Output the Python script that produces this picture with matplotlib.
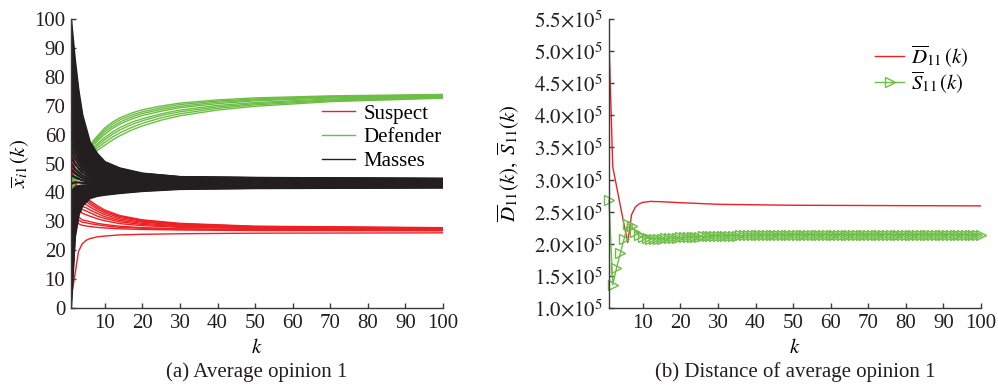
import numpy as np
import matplotlib
matplotlib.use('Agg')
import matplotlib.pyplot as plt
from matplotlib.ticker import FuncFormatter, MultipleLocator
from matplotlib.legend_handler import HandlerLine2D

plt.rcParams['font.family'] = ['Liberation Serif', 'DejaVu Serif']
plt.rcParams['mathtext.fontset'] = 'stix'

RED = '#ed2024'
GREEN = '#6dbe45'
BLACK = '#231f20'
AXIS = '#3a3a3a'
FS = 15

# ---- (a) average opinion 1 ----
k_mass = [1, 2, 3, 4, 6, 8, 10, 14, 20, 30, 50, 100]
masses = [
    [100, 86.2, 75.1, 66.8, 57.4, 53.3, 50.5, 48.3, 46.5, 45.3, 45.0, 44.7],
    [97.5, 84.3, 73.7, 65.8, 56.8, 52.9, 50.2, 48.1, 46.4, 45.25, 44.95, 44.65],
    [95, 82.4, 72.3, 64.8, 56.2, 52.5, 49.9, 47.9, 46.3, 45.2, 44.9, 44.6],
    [92.5, 80.5, 70.9, 63.7, 55.55, 52.0, 49.55, 47.65, 46.1, 45.05, 44.75, 44.5],
    [90, 78.6, 69.5, 62.6, 54.9, 51.5, 49.2, 47.4, 45.9, 44.9, 44.6, 44.4],
    [87.5, 76.7, 68.1, 61.6, 54.3, 51.05, 48.9, 47.15, 45.75, 44.85, 44.55, 44.35],
    [85, 74.8, 66.7, 60.6, 53.7, 50.6, 48.6, 46.9, 45.6, 44.8, 44.5, 44.3],
    [82.5, 72.9, 65.25, 59.55, 53.05, 50.15, 48.25, 46.65, 45.45, 44.65, 44.4, 44.2],
    [80, 71.0, 63.8, 58.5, 52.4, 49.7, 47.9, 46.4, 45.3, 44.5, 44.3, 44.1],
    [77.5, 69.15, 62.45, 57.45, 51.75, 49.25, 47.6, 46.2, 45.15, 44.4, 44.25, 44.05],
    [75, 67.3, 61.1, 56.4, 51.1, 48.8, 47.3, 46.0, 45.0, 44.3, 44.2, 44.0],
    [72.5, 65.4, 59.65, 55.35, 50.45, 48.35, 46.95, 45.75, 44.85, 44.2, 44.05, 43.9],
    [70, 63.5, 58.2, 54.3, 49.8, 47.9, 46.6, 45.5, 44.7, 44.1, 43.9, 43.8],
    [67.5, 61.6, 56.8, 53.25, 49.2, 47.45, 46.25, 45.3, 44.55, 44.0, 43.85, 43.75],
    [65, 59.7, 55.4, 52.2, 48.6, 47.0, 45.9, 45.1, 44.4, 43.9, 43.8, 43.7],
    [62.5, 57.8, 54.0, 51.15, 47.95, 46.55, 45.55, 44.85, 44.2, 43.8, 43.7, 43.6],
    [60, 55.9, 52.6, 50.1, 47.3, 46.1, 45.2, 44.6, 44.0, 43.7, 43.6, 43.5],
    [57.5, 54.0, 51.2, 49.05, 46.7, 45.65, 44.9, 44.4, 43.9, 43.6, 43.55, 43.45],
    [55, 52.1, 49.8, 48.0, 46.1, 45.2, 44.6, 44.2, 43.8, 43.5, 43.5, 43.4],
    [52.5, 50.2, 48.35, 46.95, 45.45, 44.75, 44.25, 43.9, 43.6, 43.4, 43.35, 43.3],
    [50, 48.3, 46.9, 45.9, 44.8, 44.3, 43.9, 43.6, 43.4, 43.3, 43.2, 43.2],
    [48, 46.8, 45.8, 45.05, 44.25, 43.9, 43.6, 43.4, 43.25, 43.15, 43.1, 43.1],
    [46, 45.3, 44.7, 44.2, 43.7, 43.5, 43.3, 43.2, 43.1, 43.0, 43.0, 43.0],
    [43, 43.45, 43.45, 43.3, 43.1, 43.05, 42.95, 42.95, 42.9, 42.9, 42.9, 42.9],
    [40, 41.6, 42.2, 42.4, 42.5, 42.6, 42.6, 42.7, 42.7, 42.8, 42.8, 42.8],
    [38, 40.75, 41.7, 42.05, 42.3, 42.4, 42.45, 42.55, 42.6, 42.7, 42.75, 42.75],
    [36, 39.9, 41.2, 41.7, 42.1, 42.2, 42.3, 42.4, 42.5, 42.6, 42.7, 42.7],
    [34, 39.0, 40.7, 41.35, 41.9, 42.05, 42.15, 42.25, 42.4, 42.55, 42.65, 42.65],
    [32, 38.1, 40.2, 41.0, 41.7, 41.9, 42.0, 42.1, 42.3, 42.5, 42.6, 42.6],
    [30, 37.25, 39.7, 40.65, 41.45, 41.7, 41.8, 42.0, 42.2, 42.4, 42.5, 42.55],
    [28, 36.4, 39.2, 40.3, 41.2, 41.5, 41.6, 41.9, 42.1, 42.3, 42.4, 42.5],
    [26, 35.55, 38.7, 39.95, 40.95, 41.3, 41.45, 41.75, 42.0, 42.25, 42.35, 42.45],
    [24, 34.7, 38.2, 39.6, 40.7, 41.1, 41.3, 41.6, 41.9, 42.2, 42.3, 42.4],
    [22, 33.8, 37.7, 39.3, 40.5, 40.9, 41.15, 41.45, 41.75, 42.1, 42.25, 42.35],
    [20, 32.9, 37.2, 39.0, 40.3, 40.7, 41.0, 41.3, 41.6, 42.0, 42.2, 42.3],
    [17.5, 31.85, 36.55, 38.55, 40.05, 40.5, 40.8, 41.15, 41.5, 41.95, 42.15, 42.25],
    [15, 30.8, 35.9, 38.1, 39.8, 40.3, 40.6, 41.0, 41.4, 41.9, 42.1, 42.2],
    [12.5, 29.7, 35.25, 37.65, 39.45, 40.05, 40.35, 40.8, 41.2, 41.75, 41.95, 42.1],
    [10, 28.6, 34.6, 37.2, 39.1, 39.8, 40.1, 40.6, 41.0, 41.6, 41.8, 42.0],
    [7.5, 27.5, 34.0, 36.8, 38.85, 39.55, 39.9, 40.4, 40.9, 41.55, 41.75, 41.95],
    [5, 26.4, 33.4, 36.4, 38.6, 39.3, 39.7, 40.2, 40.8, 41.5, 41.7, 41.9],
    [2.5, 25.3, 32.75, 35.9, 38.3, 39.05, 39.45, 40.0, 40.65, 41.35, 41.6, 41.8],
    [0, 24.2, 32.1, 35.4, 38.0, 38.8, 39.2, 39.8, 40.5, 41.2, 41.5, 41.7],
]

k_sus = [1, 2, 3, 4, 5, 6, 8, 10, 14, 20, 30, 50, 100]
suspects = [
    [58, 45, 40.5, 38.8, 38.3, 37.2, 35.4, 33.9, 32.0, 30.5, 29.3, 28.3, 27.8],
    [55, 44, 39.8, 38.1, 37.6, 36.6, 34.8, 33.4, 31.7, 30.3, 29.1, 28.2, 27.7],
    [53, 43, 39.0, 37.3, 36.8, 35.9, 34.2, 32.9, 31.3, 30.0, 28.9, 28.1, 27.6],
    [50, 42, 38.0, 36.3, 35.8, 35.0, 33.5, 32.3, 30.8, 29.7, 28.7, 27.9, 27.5],
    [62, 46, 37.0, 35.2, 34.7, 34.0, 32.7, 31.6, 30.3, 29.3, 28.4, 27.8, 27.4],
    [66, 47, 36.0, 34.1, 33.6, 33.0, 31.8, 31.0, 29.8, 28.9, 28.2, 27.6, 27.3],
    [70, 48, 34.8, 32.8, 32.3, 31.8, 30.9, 30.2, 29.2, 28.5, 27.9, 27.5, 27.2],
    [48, 38, 31.5, 30.5, 30.2, 29.9, 29.3, 28.9, 28.3, 27.8, 27.4, 27.2, 27.0],
    [45, 36, 30.5, 29.7, 29.5, 29.2, 28.8, 28.4, 27.9, 27.6, 27.3, 27.0, 26.9],
    [42, 34, 29.2, 28.6, 28.4, 28.2, 27.9, 27.7, 27.4, 27.2, 27.0, 26.8, 26.7],
    [3, 11, 19.5, 22.2, 23.4, 24.0, 24.6, 24.9, 25.3, 25.5, 25.7, 25.9, 26.0],
]

k_def = [1, 2, 3, 4, 5, 6, 7, 8, 10, 12, 14, 17, 20, 25, 30, 40, 50, 70, 100]
defenders = [
    [45.0, 46.0, 47.5, 49.5, 53.0, 56.0, 58.0, 59.5, 62.3, 64.3, 65.8, 67.4, 68.6, 69.9, 70.9, 72.0, 72.7, 73.4, 73.9],
    [44.4, 45.6, 47.2, 49.2, 52.6, 55.5, 57.4, 58.9, 61.6, 63.6, 65.1, 66.7, 67.9, 69.3, 70.4, 71.6, 72.35, 73.15, 73.75],
    [43.8, 45.3, 46.9, 48.9, 52.2, 55.0, 56.9, 58.3, 60.9, 62.8, 64.3, 66.0, 67.3, 68.7, 69.8, 71.2, 72.0, 72.9, 73.6],
    [43.2, 44.9, 46.6, 48.6, 51.7, 54.6, 56.3, 57.7, 60.1, 62.1, 63.6, 65.3, 66.6, 68.1, 69.3, 70.7, 71.7, 72.7, 73.4],
    [42.3, 44.4, 46.1, 48.1, 51.1, 53.8, 55.5, 56.8, 59.0, 60.9, 62.4, 64.2, 65.5, 67.2, 68.5, 70.1, 71.1, 72.3, 73.2],
    [41.6, 44.0, 45.8, 47.8, 50.6, 53.3, 54.9, 56.1, 58.2, 60.1, 61.6, 63.4, 64.8, 66.6, 67.9, 69.6, 70.7, 72.0, 73.0],
    [40.8, 43.5, 45.4, 47.4, 50.1, 52.6, 54.1, 55.3, 57.3, 59.1, 60.6, 62.4, 63.9, 65.8, 67.2, 69.1, 70.3, 71.7, 72.8],
    [40.0, 43.0, 45.0, 47.0, 49.5, 52.0, 53.4, 54.5, 56.3, 58.1, 59.6, 61.5, 63.0, 65.0, 66.5, 68.5, 69.8, 71.4, 72.6],
]

# ---- (b) distance of average opinion 1 (units of 1e5) ----
k_dist = [1, 2, 3, 4, 5, 6, 7, 8, 9, 10, 12, 15, 20, 30, 50, 100]
d11 = [5.18, 3.20, 2.90, 2.60, 2.30, 2.02, 2.45, 2.57, 2.62, 2.645, 2.66,
       2.655, 2.64, 2.615, 2.60, 2.59]
s11 = [2.68, 1.36, 1.62, 1.85, 2.07, 2.31, 2.28, 2.19, 2.13, 2.10,
       2.085, 2.080, 2.078, 2.078, 2.080, 2.083, 2.087, 2.090, 2.094, 2.098,
       2.101, 2.104, 2.107, 2.110, 2.112, 2.115, 2.117, 2.119, 2.121, 2.123,
       2.125, 2.126, 2.127, 2.128, 2.129, 2.130, 2.131, 2.132, 2.133, 2.134,
       2.135, 2.135, 2.136, 2.136, 2.137, 2.137, 2.138, 2.138, 2.139, 2.139,
       2.140, 2.140, 2.140, 2.140, 2.140, 2.140, 2.140, 2.140, 2.140, 2.140,
       2.140, 2.140, 2.140, 2.140, 2.140, 2.140, 2.140, 2.140, 2.140, 2.140,
       2.140, 2.140, 2.140, 2.140, 2.140, 2.140, 2.140, 2.140, 2.140, 2.140,
       2.140, 2.140, 2.140, 2.140, 2.140, 2.140, 2.140, 2.140, 2.140, 2.140,
       2.140, 2.140, 2.140, 2.140, 2.140, 2.140, 2.140, 2.140, 2.140, 2.140]
k_s11 = np.arange(1, len(s11) + 1)


class LeftMarkerHandler(HandlerLine2D):
    # legend marker at the left end of the line, like the original
    def get_xdata(self, legend, xdescent, ydescent, width, height, fontsize):
        return [-xdescent, -xdescent + width], [-xdescent + 0.12 * width]


def style_axes(ax):
    for side in ('top', 'right'):
        ax.spines[side].set_visible(False)
    for side in ('left', 'bottom'):
        ax.spines[side].set_color(AXIS)
        ax.spines[side].set_linewidth(1.0)
    ax.tick_params(direction='in', length=3.5, width=1.0, color=AXIS,
                   labelsize=FS, labelcolor='#231f20', pad=4)
    ax.set_xlim(1, 100)
    ax.xaxis.set_major_locator(MultipleLocator(10))


fig = plt.figure(figsize=(9.98, 3.87), dpi=100)
ax1 = fig.add_axes([0.0711, 0.2041, 0.3728, 0.7468])
ax2 = fig.add_axes([0.6102, 0.2041, 0.3727, 0.7468])

# (a)
for i, row in enumerate(suspects):
    ax1.plot(k_sus, row, color=RED, lw=1.0, label='Suspect' if i == 0 else None)
for i, row in enumerate(defenders):
    ax1.plot(k_def, row, color=GREEN, lw=1.0, label='Defender' if i == 0 else None)
for i, row in enumerate(masses):
    ax1.plot(k_mass, row, color=BLACK, lw=1.7, solid_joinstyle='round',
             label='Masses' if i == 0 else None)

style_axes(ax1)
ax1.set_ylim(0, 100)
ax1.yaxis.set_major_locator(MultipleLocator(10))
ax1.set_xlabel('$k$', fontsize=FS, va='top')
ax1.xaxis.set_label_coords(0.5, -0.108)
ax1.set_ylabel(r'$\overline{x}_{i1}\,(k)$', fontsize=FS)
ax1.yaxis.set_label_coords(-0.108, 0.5)
leg1 = ax1.legend(loc='center left', bbox_to_anchor=(322 / 998, 1 - 137.5 / 387),
                  bbox_transform=fig.transFigure, frameon=False, fontsize=FS,
                  borderpad=0, borderaxespad=0, handlelength=1.6,
                  handletextpad=0.4, labelspacing=0.2)
for h in leg1.get_lines():
    h.set_linewidth(1.0)

# (b)
ax2.plot(k_dist, np.array(d11) * 1e5, color=RED, lw=1.0,
         label=r'$\overline{D}_{11}\,(k)$')
s_line, = ax2.plot(k_s11, np.array(s11) * 1e5, color=GREEN, lw=1.0,
                   marker='>', ms=7, mfc='none', mec=GREEN, mew=1.0,
                   clip_on=False, label=r'$\overline{S}_{11}\,(k)$')

style_axes(ax2)
ax2.set_ylim(1.0e5, 5.5e5)
ax2.yaxis.set_major_locator(MultipleLocator(0.5e5))
ax2.yaxis.set_major_formatter(
    FuncFormatter(lambda v, pos: r'$%.1f{\times}10^5$' % (v / 1e5)))
ax2.set_xlabel('$k$', fontsize=FS, va='top')
ax2.xaxis.set_label_coords(0.5, -0.108)
ax2.set_ylabel(r'$\overline{D}_{11}(k),\ \overline{S}_{11}(k)$', fontsize=FS)
ax2.yaxis.set_label_coords(-0.2366, 0.5)
ax2.legend(loc='center left', bbox_to_anchor=(875 / 998, 1 - 69 / 387),
           bbox_transform=fig.transFigure, frameon=False, fontsize=FS,
           borderpad=0, borderaxespad=0, handlelength=1.4, handletextpad=0.35,
           labelspacing=0.0, handler_map={s_line: LeftMarkerHandler()})

# captions
fig.text(257 / 998, 1 - 372 / 387, '(a) Average opinion 1', ha='center',
         va='center', fontsize=FS, color='#231f20')
fig.text(795 / 998, 1 - 372 / 387, '(b) Distance of average opinion 1',
         ha='center', va='center', fontsize=FS, color='#231f20')

fig.savefig('out.png', dpi=100)
